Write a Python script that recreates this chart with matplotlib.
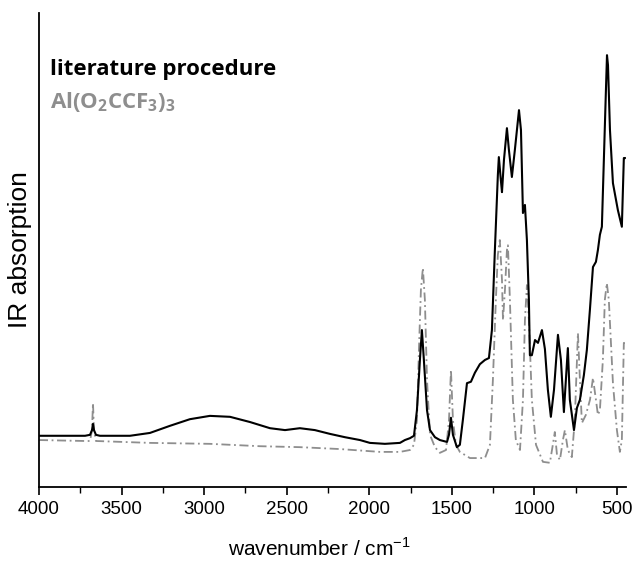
import matplotlib
matplotlib.use("Agg")
import matplotlib.pyplot as plt
from matplotlib.ticker import MultipleLocator

plt.rcParams['font.family'] = ['Liberation Sans', 'DejaVu Sans']
plt.rcParams['mathtext.fontset'] = 'custom'
plt.rcParams['mathtext.rm'] = 'Liberation Sans'
plt.rcParams['mathtext.bf'] = 'Open Sans:bold'

# literature procedure (black)
lit_wn = [4000, 3873, 3721, 3691, 3679, 3673, 3667, 3655, 3631, 3449, 3328, 3207, 3086, 2965,
          2843, 2722, 2601, 2510, 2420, 2329, 2238, 2147, 2056, 1996, 1905, 1814, 1784, 1753,
          1729, 1711, 1693, 1681, 1669, 1650, 1632, 1602, 1572, 1529, 1517, 1505, 1493, 1469,
          1451, 1433, 1408, 1384, 1360, 1330, 1299, 1275, 1257, 1239, 1221, 1215, 1203, 1196,
          1184, 1166, 1154, 1136, 1118, 1093, 1081, 1069, 1057, 1045, 1033, 1027, 1015, 996,
          978, 954, 936, 918, 900, 881, 857, 839, 821, 809, 797, 785, 760, 742, 724, 700, 682,
          663, 645, 627, 615, 603, 591, 579, 567, 560, 554, 542, 524, 494, 470, 458, 452]
lit_abs = [0.108, 0.108, 0.108, 0.110, 0.120, 0.133, 0.120, 0.110, 0.108, 0.108, 0.114, 0.129,
           0.143, 0.150, 0.148, 0.137, 0.124, 0.120, 0.124, 0.120, 0.112, 0.105, 0.099, 0.093,
           0.091, 0.093, 0.099, 0.103, 0.108, 0.162, 0.268, 0.331, 0.268, 0.162, 0.120, 0.105,
           0.099, 0.095, 0.110, 0.146, 0.110, 0.084, 0.089, 0.141, 0.219, 0.222, 0.241, 0.259,
           0.268, 0.272, 0.331, 0.500, 0.658, 0.696, 0.648, 0.622, 0.690, 0.757, 0.711, 0.654,
           0.711, 0.795, 0.753, 0.578, 0.595, 0.521, 0.395, 0.278, 0.278, 0.310, 0.304, 0.331,
           0.291, 0.205, 0.148, 0.205, 0.321, 0.268, 0.158, 0.226, 0.293, 0.184, 0.120, 0.167,
           0.184, 0.236, 0.289, 0.376, 0.464, 0.475, 0.500, 0.532, 0.549, 0.690, 0.831, 0.911,
           0.890, 0.753, 0.641, 0.584, 0.549, 0.694, 0.694]

# Al(O2CCF3)3 reference (grey)
ref_wn = [4000, 3721, 3691, 3679, 3673, 3667, 3655, 3328, 2965, 2662, 2420, 2178, 1935, 1814,
          1753, 1729, 1711, 1699, 1687, 1675, 1663, 1650, 1632, 1602, 1572, 1535, 1517, 1505,
          1493, 1475, 1451, 1390, 1299, 1269, 1251, 1233, 1221, 1209, 1196, 1190, 1178, 1166,
          1160, 1148, 1130, 1112, 1087, 1069, 1057, 1045, 1033, 1015, 990, 948, 906, 888, 876,
          863, 845, 827, 815, 797, 773, 755, 736, 724, 712, 688, 663, 645, 627, 615, 603, 585,
          573, 561, 549, 524, 500, 482, 470, 458, 452]
ref_abs = [0.099, 0.097, 0.097, 0.120, 0.177, 0.120, 0.097, 0.093, 0.091, 0.086, 0.084, 0.080,
           0.074, 0.074, 0.078, 0.089, 0.141, 0.289, 0.416, 0.462, 0.395, 0.226, 0.110, 0.084,
           0.072, 0.078, 0.141, 0.247, 0.141, 0.089, 0.074, 0.061, 0.061, 0.089, 0.226, 0.395,
           0.490, 0.521, 0.437, 0.352, 0.416, 0.500, 0.510, 0.395, 0.184, 0.099, 0.078, 0.184,
           0.352, 0.426, 0.352, 0.184, 0.089, 0.053, 0.051, 0.089, 0.116, 0.068, 0.057, 0.099,
           0.120, 0.078, 0.063, 0.141, 0.325, 0.226, 0.135, 0.152, 0.184, 0.230, 0.184, 0.152,
           0.162, 0.268, 0.395, 0.430, 0.395, 0.219, 0.120, 0.074, 0.099, 0.304, 0.304]

x_ticks = [4000, 3500, 3000, 2500, 2000, 1500, 1000, 500]

fig = plt.figure(figsize=(6.35, 5.62), dpi=100)
ax = fig.add_axes([0.0614, 0.1335, 0.9244, 0.8434])

ax.plot(ref_wn, ref_abs, color='#8e8e8e', lw=1.3, linestyle=(0, (5, 2, 1, 2)))
ax.plot(lit_wn, lit_abs, color='black', lw=1.5)

ax.set_xlim(4000, 445)
ax.set_ylim(0, 1.0)
ax.set_xticks(x_ticks)
ax.set_xticklabels([str(t) for t in x_ticks])
ax.xaxis.set_minor_locator(MultipleLocator(250))
ax.tick_params(axis='x', which='major', direction='out', length=6, width=1.2,
               labelsize=13.5, pad=4)
ax.tick_params(axis='x', which='minor', direction='out', length=4, width=1.0)
ax.set_yticks([])
for s in ['top', 'right']:
    ax.spines[s].set_visible(False)
for s in ['left', 'bottom']:
    ax.spines[s].set_linewidth(1.3)

ax.set_ylabel('IR absorption', fontsize=19, labelpad=5)
fig.text(0.503, 0.011, 'wavenumber / cm$^{\\mathregular{-1}}$', fontsize=15,
         ha='center', va='baseline')

ax.text(0.018, 0.87, 'literature procedure', transform=ax.transAxes, fontsize=16,
        fontweight='bold', color='black', va='baseline', family='Open Sans')
ax.text(0.018, 0.80, '$\\mathbf{Al(O_2CCF_3)_3}$', transform=ax.transAxes, fontsize=16,
        color='#8e8e8e', va='baseline')

fig.savefig('out.png', dpi=100)
